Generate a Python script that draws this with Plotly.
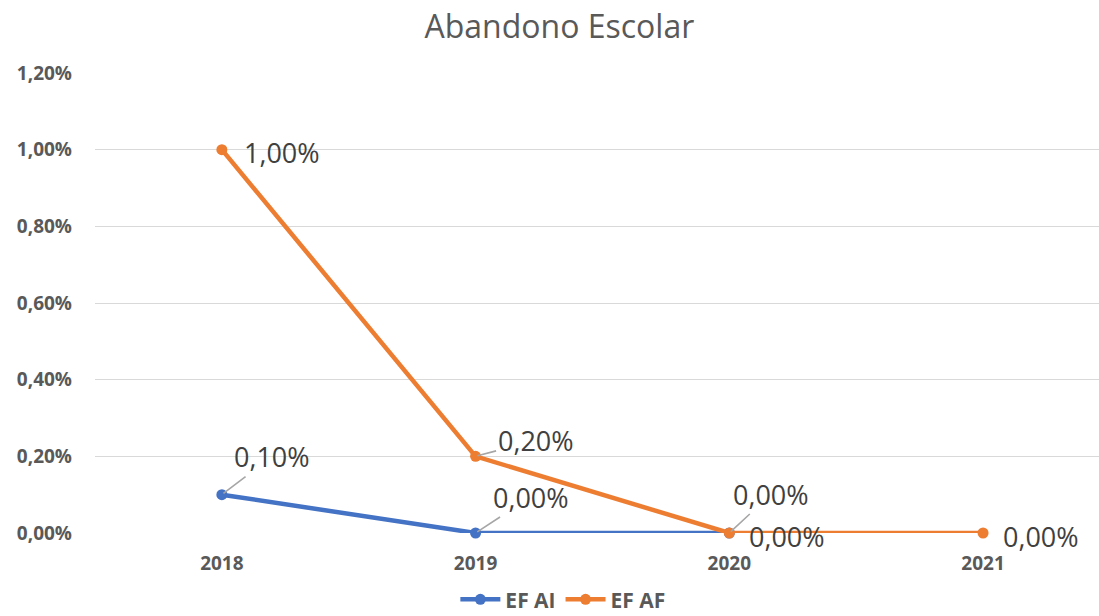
import plotly.graph_objects as go

years = ["2018", "2019", "2020", "2021"]
ef_ai = [0.001, 0.0, 0.0, None]
ef_af = [0.010, 0.002, 0.0, 0.0]
y_ticks = [0, 0.002, 0.004, 0.006, 0.008, 0.010, 0.012]
y_tick_labels = ["0,00%", "0,20%", "0,40%", "0,60%", "0,80%", "1,00%", "1,20%"]

BLUE = "#4472C4"
ORANGE = "#ED7D31"
LABEL_FONT = dict(family="Open Sans", size=27, color="#404040")


def fmt(v):
    return f"{v*100:.2f}%".replace(".", ",")


fig = go.Figure()
fig.add_trace(go.Scatter(
    x=years, y=ef_ai, name="EF AI", mode="lines+markers",
    line=dict(color=BLUE, width=4.5), marker=dict(size=11, color=BLUE),
    cliponaxis=False,
))
fig.add_trace(go.Scatter(
    x=years, y=ef_af, name="EF AF", mode="lines+markers",
    line=dict(color=ORANGE, width=4.5), marker=dict(size=11, color=ORANGE),
    cliponaxis=False,
))

# label placements (pixel offsets of label centre from the point; leader line flag)
ai_offsets = [(50, -38, True), (55, -36, True), (42, -39, True), None]
af_offsets = [(60, 3, False), (60, -16, True), (58, 3, False), (58, 3, False)]

annotations = []
for series, offsets in ((ef_ai, ai_offsets), (ef_af, af_offsets)):
    for i, (v, off) in enumerate(zip(series, offsets)):
        if v is None or off is None:
            continue
        ax, ay, leader = off
        annotations.append(dict(
            xref="x", yref="y", x=i, y=v, text=fmt(v), ax=ax, ay=ay,
            showarrow=True, arrowhead=0, arrowwidth=1.6,
            arrowcolor="#A6A6A6" if leader else "rgba(255,255,255,0)",
            standoff=2, font=LABEL_FONT,
        ))

fig.update_layout(
    width=1099, height=616,
    margin=dict(l=95, r=0, t=73, b=83, autoexpand=False),
    paper_bgcolor="white", plot_bgcolor="white",
    title=dict(text="Abandono Escolar", x=0.509, xanchor="center", y=0.956, yanchor="middle",
               font=dict(family="Open Sans", size=32, color="#595959")),
    legend=dict(orientation="h", x=0.466, xanchor="center", y=-0.145, yanchor="middle",
                font=dict(family="Open Sans", size=21, color="#595959", weight="bold"),
                itemwidth=40, tracegroupgap=0),
    showlegend=True,
    annotations=annotations,
)
fig.update_xaxes(
    type="category", range=[-0.5, 3.457], showgrid=False, zeroline=False,
    showline=False, ticks="",
    tickfont=dict(family="Open Sans", size=19, color="#595959", weight="bold"),
    ticklabelstandoff=17,
)
fig.update_yaxes(
    range=[0, 0.012], tickvals=y_ticks, ticktext=y_tick_labels,
    showgrid=True, gridcolor="#D9D9D9", gridwidth=1.3, zeroline=False,
    showline=False, ticks="",
    tickfont=dict(family="Open Sans", size=19, color="#595959", weight="bold"),
    ticklabelstandoff=22,
)

fig.write_html("out.html", config={"displayModeBar": False},
               post_script="document.body.style.margin='0';")
